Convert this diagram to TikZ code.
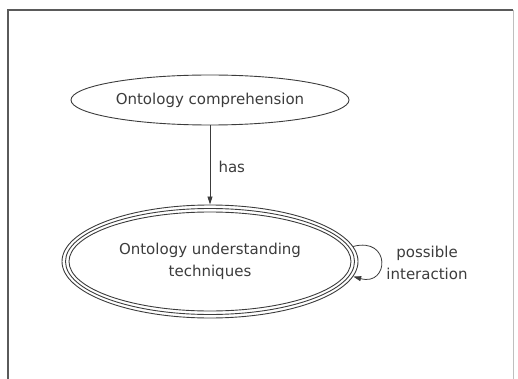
\documentclass[tikz,border=0pt]{standalone}
\usepackage{fontspec}
\setmainfont{DejaVu Sans}
\usetikzlibrary{arrows.meta,shapes.geometric}
\definecolor{frame}{RGB}{90,90,90}
\definecolor{ink}{RGB}{60,60,60}

\begin{document}
\begin{tikzpicture}[x=1pt,y=-1pt,>={Triangle[length=8pt,width=5pt]},
  every node/.style={font=\fontsize{15}{22}\selectfont,text=ink},
  concept/.style={ellipse,draw=ink,line width=0.9pt,inner sep=0pt},
  ring/.style={ellipse,draw=ink,line width=0.9pt,inner sep=0pt}]
\useasboundingbox (0,0) rectangle (518,379);
% frame
\draw[frame,line width=1.2pt] (8,379) -- (8,10) -- (513,10);
\draw[black!25,line width=0.8pt] (513,10) -- (513,379);
% nodes
\node[concept,minimum width=278,minimum height=50] (comp) at (210,100) {Ontology comprehension};
\node[concept,minimum width=296,minimum height=113,align=center] (tech) at (210,261.5) {Ontology understanding\\techniques};
\node[ring,minimum width=289,minimum height=106] (techb) at (tech) {};
\node[ring,minimum width=282,minimum height=99] (techc) at (tech) {};
% connectors
\draw[ink,->,line width=0.8pt] (comp) -- (tech);
\node[anchor=west] (has) at (215,167) {has};
\draw[ink,->,line width=0.8pt] (tech.6) .. controls +(38,-10) and +(36,10) .. (tech.-6);
\node[align=center] (inter) at (427,263) {possible\\interaction};
\end{tikzpicture}
\end{document}
